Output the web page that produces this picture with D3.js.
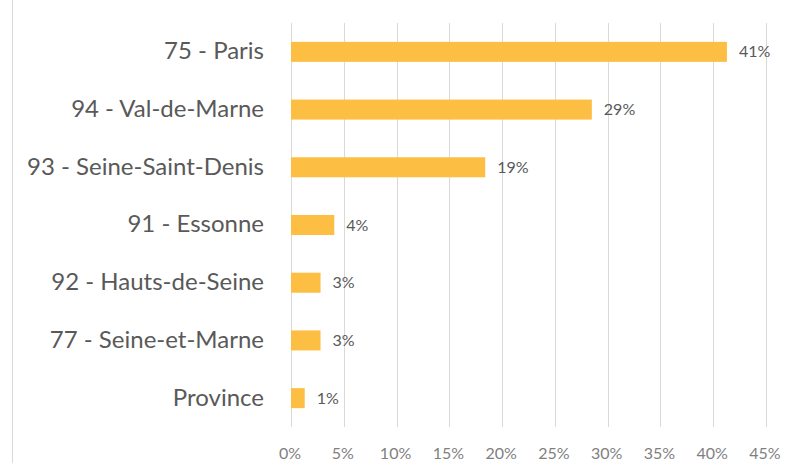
<!DOCTYPE html>
<html>
<head>
<meta charset="utf-8">
<script src="https://cdn.jsdelivr.net/npm/d3@7"></script>
<style>
  body { margin: 0; background: #fff; }
  svg { display: block; font-family: Lato, "Open Sans", sans-serif; }
</style>
</head>
<body>
<div id="chart"></div>
<script>
const categories = ["75 - Paris", "94 - Val-de-Marne", "93 - Seine-Saint-Denis", "91 - Essonne", "92 - Hauts-de-Seine", "77 - Seine-et-Marne", "Province"];
const values = [41.3, 28.5, 18.4, 4.1, 2.8, 2.8, 1.3];
const valueLabels = ["41%", "29%", "19%", "4%", "3%", "3%", "1%"];
const ticks = [0, 5, 10, 15, 20, 25, 30, 35, 40, 45];

const width = 794, height = 463;
const margin = { top: 23, right: 28, bottom: 36, left: 291 };

const svg = d3.select("#chart").append("svg")
    .attr("width", width)
    .attr("height", height);

// left frame line
svg.append("line")
    .attr("x1", 12.5).attr("x2", 12.5)
    .attr("y1", 0).attr("y2", height)
    .attr("stroke", "#d9d9d9");

const x = d3.scaleLinear()
    .domain([0, 45])
    .range([margin.left, 766]);

const y = d3.scaleBand()
    .domain(categories)
    .range([margin.top, height - margin.bottom])
    .paddingInner(0.653)
    .paddingOuter(0.653 / 2);

// gridlines
svg.append("g")
    .selectAll("line")
    .data(ticks)
    .enter().append("line")
    .attr("x1", d => Math.round(x(d)) + 0.5)
    .attr("x2", d => Math.round(x(d)) + 0.5)
    .attr("y1", margin.top)
    .attr("y2", height - margin.bottom)
    .attr("stroke", "#d9d9d9")
    .attr("stroke-width", 1);

// x tick labels
svg.append("g")
    .selectAll("text")
    .data(ticks)
    .enter().append("text")
    .attr("x", d => x(d) - 1)
    .attr("y", 453)
    .attr("dy", "0.35em")
    .attr("text-anchor", "middle")
    .attr("font-size", 16)
    .attr("fill", "#7f7f7f")
    .text(d => d + "%");

// bars
svg.append("g")
    .selectAll("rect")
    .data(categories)
    .enter().append("rect")
    .attr("x", x(0))
    .attr("y", d => y(d))
    .attr("width", (d, i) => x(values[i]) - x(0))
    .attr("height", y.bandwidth())
    .attr("fill", "#fdbf43");

// category labels
svg.append("g")
    .selectAll("text")
    .data(categories)
    .enter().append("text")
    .attr("x", 264)
    .attr("y", d => y(d) + y.bandwidth() / 2 - 1)
    .attr("dy", "0.35em")
    .attr("text-anchor", "end")
    .attr("font-size", 24)
    .attr("fill", "#595959")
    .text(d => d);

// value labels
svg.append("g")
    .selectAll("text")
    .data(categories)
    .enter().append("text")
    .attr("x", (d, i) => x(values[i]) + 12)
    .attr("y", d => y(d) + y.bandwidth() / 2)
    .attr("dy", "0.35em")
    .attr("font-size", 16)
    .attr("fill", "#595959")
    .text((d, i) => valueLabels[i]);
</script>
</body>
</html>
